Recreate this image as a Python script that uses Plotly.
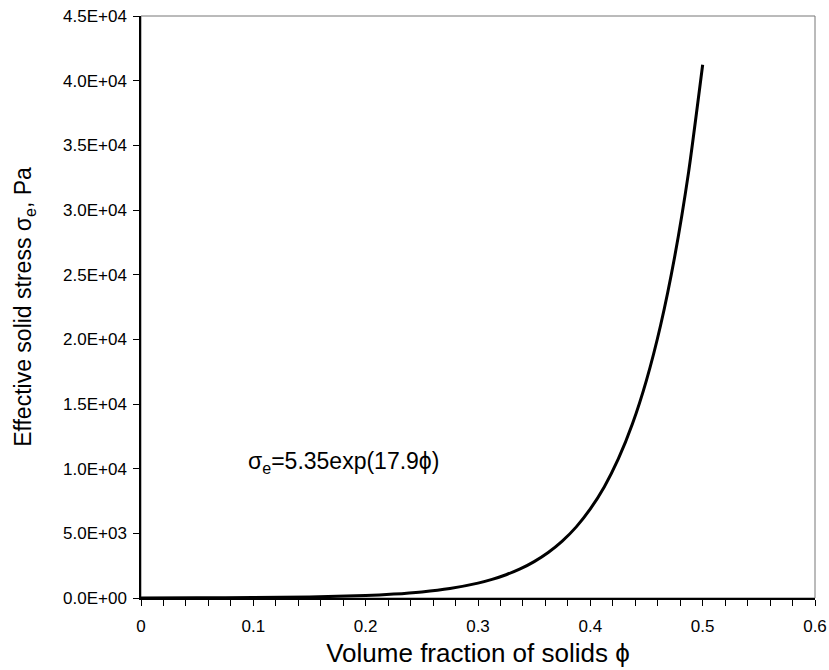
import plotly.graph_objects as go

# Values (volume fraction vs effective solid stress, Pa)
phi = [0.0, 0.05, 0.10, 0.15, 0.20, 0.225, 0.25, 0.275, 0.30, 0.3125, 0.325, 0.3375,
       0.35, 0.3625, 0.375, 0.3875, 0.40, 0.4125, 0.425, 0.4375, 0.45, 0.4625,
       0.475, 0.4875, 0.50]
stress = [5, 13, 32, 78, 192, 300, 470, 735, 1150, 1440, 1800, 2250,
          2815, 3520, 4400, 5500, 6890, 8610, 10770, 13470, 16850, 21070,
          26350, 32950, 41230]

y_ticks = [0, 5000, 10000, 15000, 20000, 25000, 30000, 35000, 40000, 45000]
y_ticktext = [f"{v:.1E}" for v in y_ticks]
x_ticks = [0, 0.1, 0.2, 0.3, 0.4, 0.5, 0.6]
x_ticktext = ["0", "0.1", "0.2", "0.3", "0.4", "0.5", "0.6"]

font = "Liberation Sans, Arial, sans-serif"

fig = go.Figure()
fig.add_trace(go.Scatter(x=phi, y=stress, mode="lines",
                         line=dict(color="black", width=3, shape="spline", smoothing=0.6),
                         showlegend=False))

fig.add_shape(type="rect", xref="paper", yref="paper", x0=0, y0=0, x1=1, y1=1,
              line=dict(color="#777777", width=1), layer="below")

fig.add_annotation(x=0.18, y=10440, xref="x", yref="y",
                   text="σ<sub>e</sub>=5.35exp(17.9ϕ)", showarrow=False,
                   xanchor="center", yanchor="middle",
                   font=dict(family=font, size=23, color="black"))

fig.update_layout(
    width=829, height=670,
    margin=dict(l=141, r=14, t=16, b=72),
    paper_bgcolor="white", plot_bgcolor="white",
    font=dict(family=font, color="black"),
    xaxis=dict(range=[0, 0.6], tickvals=x_ticks, ticktext=x_ticktext,
               ticks="outside", ticklen=6, tickwidth=1, tickcolor="black",
               minor=dict(dtick=0.02, ticks="outside", ticklen=6, tickwidth=1, tickcolor="black"),
               showline=True, linecolor="black", linewidth=1.5,
               showgrid=False, zeroline=False, automargin=False,
               tickfont=dict(size=17), ticklabelstandoff=6,
               title=dict(text="Volume fraction of solids ϕ", font=dict(size=26), standoff=9)),
    yaxis=dict(range=[0, 45000], tickvals=y_ticks, ticktext=y_ticktext,
               ticks="outside", ticklen=6, tickwidth=1, tickcolor="black",
               showline=True, linecolor="black", linewidth=1.5,
               showgrid=False, zeroline=False, automargin=False,
               tickfont=dict(size=17), ticklabelstandoff=3,
               title=dict(text="Effective solid stress σ<sub>e</sub>, Pa", font=dict(size=23), standoff=25)),
)

fig.write_html("out.html")
